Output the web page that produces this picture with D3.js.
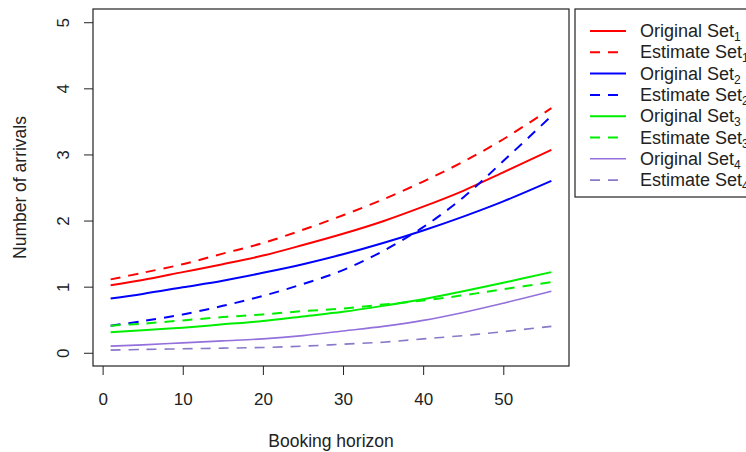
<!DOCTYPE html>
<html>
<head>
<meta charset="utf-8">
<script src="https://cdn.jsdelivr.net/npm/d3@7"></script>
<style>
  body { margin: 0; background: #fff; }
  text { font-family: "Liberation Sans", Arial, sans-serif; fill: #222; }
</style>
</head>
<body>
<svg id="canvas"></svg>
<script>
// booking horizon sample points and values
let horizon = [1, 5, 10, 15, 20, 25, 30, 35, 40, 45, 50, 56]

let original1 = [1.02, 1.10, 1.22, 1.34, 1.47, 1.63, 1.80, 1.99, 2.21, 2.45, 2.73, 3.07]
let estimate1 = [1.11, 1.21, 1.34, 1.50, 1.66, 1.86, 2.08, 2.32, 2.59, 2.89, 3.23, 3.70]
let original2 = [0.82, 0.89, 0.99, 1.09, 1.21, 1.34, 1.49, 1.66, 1.85, 2.06, 2.29, 2.60]
let estimate2 = [0.41, 0.48, 0.58, 0.71, 0.86, 1.04, 1.25, 1.54, 1.90, 2.35, 2.90, 3.58]
let original3 = [0.31, 0.34, 0.38, 0.43, 0.48, 0.55, 0.62, 0.71, 0.81, 0.93, 1.06, 1.22]
let estimate3 = [0.41, 0.44, 0.49, 0.54, 0.58, 0.63, 0.67, 0.73, 0.79, 0.87, 0.96, 1.07]
let original4 = [0.10, 0.12, 0.15, 0.18, 0.21, 0.26, 0.33, 0.40, 0.49, 0.61, 0.75, 0.93]
let estimate4 = [0.04, 0.05, 0.06, 0.07, 0.08, 0.10, 0.13, 0.16, 0.21, 0.26, 0.32, 0.40]

let xTicks = [0, 10, 20, 30, 40, 50]
let yTicks = [0, 1, 2, 3, 4, 5]

let seriesNames = ['Original', 'Estimate', 'Original', 'Estimate', 'Original', 'Estimate', 'Original', 'Estimate']
let seriesSets = [1, 1, 2, 2, 3, 3, 4, 4]
let seriesValues = [original1, estimate1, original2, estimate2, original3, estimate3, original4, estimate4]
let seriesColors = ['#ff0000', '#ff0000', '#0000ff', '#0000ff', '#00ee00', '#00ee00', '#9370db', '#8a78c8']

let width = 746
let height = 452

let plotLeft = 93, plotRight = 569, plotTop = 9, plotBottom = 366

let svg = d3.select('#canvas')
    .attr('width', width)
    .attr('height', height)

// R style: 4% padding around data range
let xScale = d3.scaleLinear()
    .domain([1 - 55 * 0.04, 56 + 55 * 0.04])
    .range([plotLeft, plotRight])

let yScale = d3.scaleLinear()
    .domain([-0.2, 5.2])
    .range([plotBottom, plotTop])

let line = d3.line()
    .x((d) => xScale(d[0]))
    .y((d) => yScale(d[1]))
    .curve(d3.curveCatmullRom)

let plot = svg.append('g')

seriesValues.forEach((vals, i) => {
    let pts = horizon.map((h, j) => [h, vals[j]])
    plot.append('path')
        .attr('d', line(pts))
        .attr('fill', 'none')
        .attr('stroke', seriesColors[i])
        .attr('stroke-width', i >= 6 ? 1.6 : 2)
        .attr('stroke-dasharray', i % 2 === 1 ? '10,8' : null)
})

// box
svg.append('rect')
    .attr('x', plotLeft)
    .attr('y', plotTop)
    .attr('width', plotRight - plotLeft)
    .attr('height', plotBottom - plotTop)
    .attr('fill', 'none')
    .attr('stroke', '#222')
    .attr('stroke-width', 1.2)

let xAxis = d3.axisBottom(xScale)
    .tickValues(xTicks)
    .tickSize(9)
    .tickPadding(14)
    .tickFormat(d3.format('d'))

let yAxis = d3.axisLeft(yScale)
    .tickValues(yTicks)
    .tickSize(9)
    .tickPadding(14)
    .tickFormat(d3.format('d'))

let gx = svg.append('g')
    .attr('transform', 'translate(0,' + plotBottom + ')')
    .call(xAxis)
    .attr('font-size', null)
gx.select('.domain').remove()
gx.selectAll('line').attr('stroke', '#222')
gx.selectAll('text')
    .attr('dy', null)
    .attr('y', 39)
    .attr('fill', '#222')
    .attr('font-family', 'Liberation Sans, Arial, sans-serif')
    .attr('font-size', 17)

let gy = svg.append('g')
    .attr('transform', 'translate(' + plotLeft + ',0)')
    .call(yAxis)
    .attr('font-size', null)
gy.select('.domain').remove()
gy.selectAll('line').attr('stroke', '#222')
// R draws y tick labels parallel to the axis
gy.selectAll('.tick text')
    .attr('text-anchor', 'middle')
    .attr('dy', null)
    .attr('x', null)
    .attr('y', 6)
    .attr('transform', 'translate(-30,0) rotate(-90)')
    .attr('fill', '#222')
    .attr('font-family', 'Liberation Sans, Arial, sans-serif')
    .attr('font-size', 17)

// axis titles
svg.append('text')
    .attr('x', (plotLeft + plotRight) / 2)
    .attr('y', 447)
    .attr('text-anchor', 'middle')
    .style('font-size', '17.5px')
    .text('Booking horizon')

svg.append('text')
    .attr('transform', 'translate(26,' + ((plotTop + plotBottom) / 2) + ') rotate(-90)')
    .attr('text-anchor', 'middle')
    .style('font-size', '17.5px')
    .text('Number of arrivals')

// legend
let legend = svg.append('g')
legend.append('rect')
    .attr('x', 575)
    .attr('y', 9)
    .attr('width', 200)
    .attr('height', 188)
    .attr('fill', '#fff')
    .attr('stroke', '#222')
    .attr('stroke-width', 1.2)

seriesNames.forEach((name, i) => {
    let y = 31 + i * 21.3
    legend.append('line')
        .attr('x1', 590)
        .attr('x2', 626)
        .attr('y1', y)
        .attr('y2', y)
        .attr('stroke', seriesColors[i])
        .attr('stroke-width', i >= 6 ? 1.6 : 2)
        .attr('stroke-dasharray', i % 2 === 1 ? '10,8' : null)
    let t = legend.append('text')
        .attr('x', 640)
        .attr('y', y + 6)
        .style('font-size', '18px')
    t.append('tspan').text(name + ' Set')
    t.append('tspan')
        .attr('dy', 4)
        .style('font-size', '12px')
        .text(seriesSets[i])
})
</script>
</body>
</html>
